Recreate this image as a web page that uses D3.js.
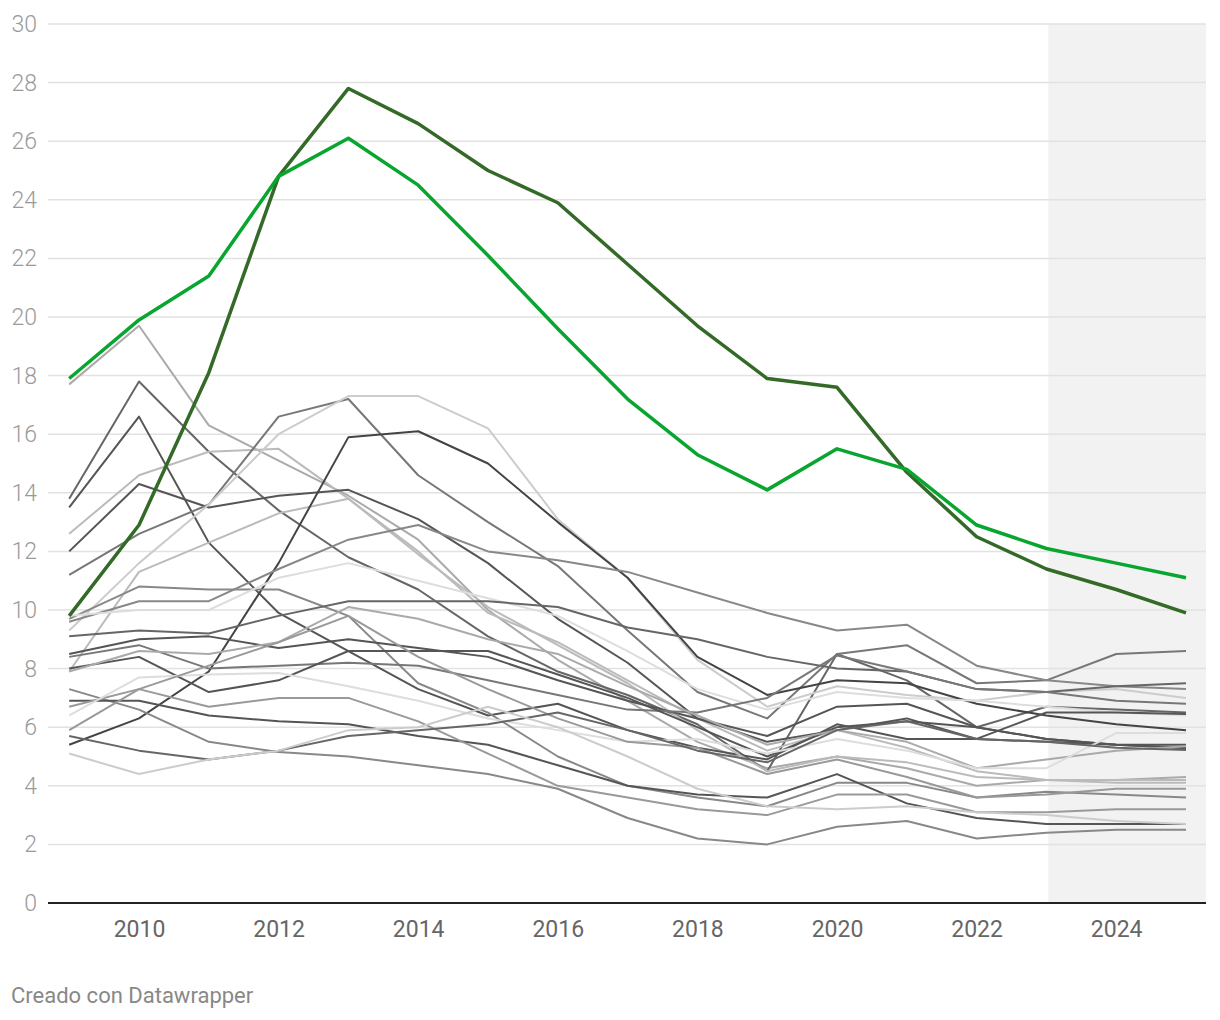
<!DOCTYPE html>
<html><head><meta charset="utf-8">
<script src="https://cdn.jsdelivr.net/npm/d3@7"></script>
<style>
body{margin:0;background:#fff;font-family:Roboto,"Noto Sans",sans-serif;}
</style></head>
<body><svg id="c" width="1220" height="1020"></svg>
<script>
const years = d3.range(2009, 2026);
const yTicks = d3.range(0, 31, 2);
const xTicks = [2010, 2012, 2014, 2016, 2018, 2020, 2022, 2024];
const shadeFrom = 2023;

const greenLight = [17.9,19.9,21.4,24.8,26.1,24.5,22.1,19.6,17.2,15.3,14.1,15.5,14.8,12.9,12.1,11.6,11.1];
const greenDark  = [9.8,12.9,18.1,24.8,27.8,26.6,25.0,23.9,21.8,19.7,17.9,17.6,14.7,12.5,11.4,10.7,9.9];

const grayValues = [
 [17.7,19.7,16.3,15.1,13.9,12.4,10.0,8.3,6.9,5.5,4.6,5.0,4.6,4.0,4.2,4.2,4.3],
 [13.8,17.8,15.4,13.4,11.8,10.7,9.1,7.9,7.1,6.1,4.5,8.5,7.6,6.0,6.7,6.6,6.5],
 [13.5,16.6,12.3,9.9,8.6,7.3,6.4,6.8,5.9,5.3,4.9,6.1,5.6,5.6,5.5,5.4,5.4],
 [12.6,14.6,15.4,15.5,13.8,12.0,9.9,8.9,7.6,6.3,5.2,5.9,5.3,4.5,4.2,4.1,4.1],
 [12.0,14.3,13.5,13.9,14.1,13.1,11.6,9.7,8.2,6.3,5.7,6.7,6.8,6.0,5.6,5.4,5.3],
 [11.2,12.6,13.6,16.6,17.2,14.6,13.0,11.5,9.3,7.2,6.3,8.5,8.8,7.5,7.6,8.5,8.6],
 [9.3,11.6,13.6,16.0,17.3,17.3,16.2,13.1,11.1,8.3,6.7,7.4,7.1,6.9,7.2,7.3,7.0],
 [7.9,11.3,12.3,13.3,13.8,11.9,10.1,8.8,7.5,5.9,4.5,5.0,4.8,4.3,4.2,4.2,4.2],
 [5.4,6.3,7.9,11.6,15.9,16.1,15.0,13.0,11.1,8.4,7.1,7.6,7.5,6.8,6.4,6.1,5.9],
 [9.7,10.8,10.7,10.7,9.8,7.5,6.5,5.0,4.0,3.6,3.3,4.1,4.1,3.6,3.8,3.7,3.6],
 [9.6,10.3,10.3,11.4,12.4,12.9,12.0,11.7,11.3,10.6,9.9,9.3,9.5,8.1,7.6,7.4,7.3],
 [9.8,10.0,10.0,11.1,11.6,11.0,10.4,9.8,8.6,7.3,6.6,7.2,7.0,6.9,6.7,6.5,6.4],
 [9.1,9.3,9.2,9.8,10.3,10.3,10.3,10.1,9.4,9.0,8.4,8.0,7.9,7.3,7.2,7.4,7.5],
 [8.5,9.0,9.1,8.7,9.0,8.7,8.4,7.6,6.9,6.3,5.5,5.9,6.3,5.6,6.5,6.5,6.45],
 [8.4,8.8,8.0,8.1,8.2,8.1,7.6,7.1,6.6,6.5,7.0,8.45,7.9,7.3,7.2,6.9,6.8],
 [8.0,8.4,7.2,7.6,8.6,8.6,8.6,7.8,7.0,6.0,5.0,6.0,6.2,6.0,5.6,5.4,5.28],
 [7.9,8.6,8.5,8.9,10.1,9.7,9.0,8.5,7.4,6.4,5.4,5.9,5.5,4.6,4.9,5.2,5.35],
 [7.3,6.6,5.5,5.15,5.0,4.7,4.4,3.9,2.9,2.2,2.0,2.6,2.8,2.2,2.4,2.5,2.5],
 [6.9,6.9,6.4,6.2,6.1,5.7,5.4,4.7,4.0,3.7,3.6,4.4,3.4,2.9,2.7,2.7,2.7],
 [6.7,7.3,6.7,7.0,7.0,6.2,5.1,4.0,3.6,3.2,3.0,3.7,3.7,3.1,3.1,3.2,3.2],
 [6.4,7.7,7.8,7.85,7.4,6.9,6.3,5.9,5.5,5.6,5.1,5.6,5.2,4.6,4.6,5.8,5.8],
 [5.9,7.3,8.1,8.9,9.8,8.4,7.3,6.3,5.5,5.3,4.4,4.9,4.3,3.6,3.7,3.9,3.9],
 [5.7,5.2,4.9,5.2,5.7,5.9,6.1,6.5,5.9,5.2,4.8,5.9,6.2,5.6,5.5,5.3,5.22],
 [5.1,4.4,4.9,5.2,5.9,6.0,6.7,6.0,5.0,3.9,3.3,3.2,3.3,3.1,3.0,2.8,2.7]
];
const grayShades = ["#aaa","#666","#555","#bbb","#555","#777","#ccc","#bbb","#444","#888","#888","#ddd",
  "#666","#555","#777","#555","#aaa","#888","#555","#999","#ddd","#999","#666","#ccc"];

const svg = d3.select("#c");
const pLeft = 48, pRight = 1206, pTop = 24, pBottom = 903;
const x = d3.scaleLinear().domain([2009, 2025]).range([69.2, 1186]);
const y = d3.scaleLinear().domain([0, 30]).range([pBottom, pTop]);

svg.append("rect").attr("x", x(shadeFrom)+2).attr("y", pTop).attr("width", pRight - x(shadeFrom) - 2)
  .attr("height", pBottom - pTop).attr("fill", "#f2f2f2");

svg.append("g").selectAll("line").data(yTicks.filter(d => d > 0)).join("line")
  .attr("x1", pLeft).attr("x2", pRight).attr("y1", d => y(d)).attr("y2", d => y(d))
  .attr("stroke", "#e2e2e2").attr("stroke-width", 1.5);

svg.append("g").selectAll("text").data(yTicks).join("text")
  .attr("x", 37).attr("y", d => y(d)).attr("dy", "0.35em").attr("text-anchor", "end")
  .attr("font-size", 23).attr("font-weight", 300).attr("fill", "#9a9a9a").text(d => d);

const line = d3.line().x((d, i) => x(years[i])).y(d => y(d));

svg.append("g").selectAll("path").data(grayValues).join("path")
  .attr("d", line).attr("fill", "none")
  .attr("stroke", (d, i) => grayShades[i]).attr("stroke-width", 2)
  .attr("stroke-linejoin", "round");

svg.append("path").datum(greenDark).attr("d", line).attr("fill", "none")
  .attr("stroke", "#336a27").attr("stroke-width", 3.5).attr("stroke-linejoin", "round");
svg.append("path").datum(greenLight).attr("d", line).attr("fill", "none")
  .attr("stroke", "#08a52f").attr("stroke-width", 3.5).attr("stroke-linejoin", "round");

svg.append("line").attr("x1", pLeft).attr("x2", pRight).attr("y1", pBottom).attr("y2", pBottom)
  .attr("stroke", "#222").attr("stroke-width", 2);

const xAxis = d3.axisBottom(x).tickValues(xTicks).tickFormat(d3.format("d")).tickSize(0).tickPadding(18);
const gx = svg.append("g").attr("transform", `translate(0,${pBottom})`).call(xAxis);
gx.select(".domain").remove();
gx.selectAll("text").attr("font-size", 23).attr("fill", "#666").attr("font-family", "Roboto");

svg.append("text").attr("x", 11).attr("y", 1003).attr("font-size", 22).attr("fill", "#888")
  .text("Creado con Datawrapper");
</script></body></html>
